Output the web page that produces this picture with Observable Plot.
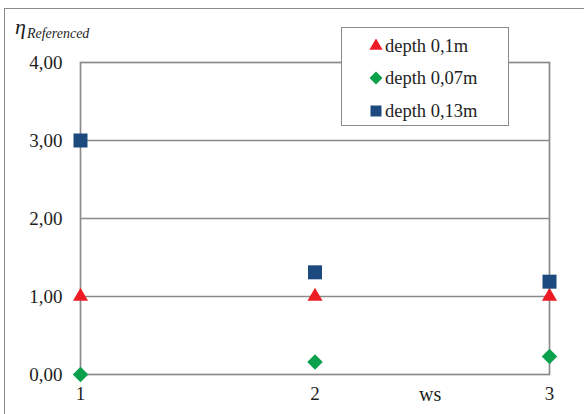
<!DOCTYPE html>
<html><head><meta charset="utf-8">
<script src="https://cdn.jsdelivr.net/npm/d3@7"></script>
<script src="https://cdn.jsdelivr.net/npm/@observablehq/plot@0.6"></script>
<style>
body{margin:0;background:#fff;}
#wrap{position:relative;width:584px;height:414px;overflow:hidden;font-family:"Liberation Serif","Times New Roman",serif;color:#1e1e1e;}
#border{position:absolute;left:4px;top:8px;width:800px;height:600px;border-left:1px solid #8a8a8a;border-top:1px solid #8a8a8a;}
#chart{position:absolute;left:0;top:0;}
#ylab{position:absolute;left:15px;top:14px;font-style:italic;white-space:nowrap;font-family:"Liberation Serif",serif;}
#ylab .eta{font-size:22px;}
#ylab sub{font-size:14px;vertical-align:-4px;margin-left:1px;}
#xlab{position:absolute;left:419px;top:383px;font-size:20px;font-family:"Liberation Serif",serif;}
#legend{position:absolute;left:341px;top:27px;width:166px;height:97px;border:1.5px solid #8a8a8a;background:#fff;}
.row{position:absolute;left:27px;height:22px;display:flex;align-items:center;font-size:18.5px;white-space:nowrap;font-family:"Liberation Serif",serif;}
.row svg{margin-right:2px;}
</style></head>
<body>
<div id="wrap">
  <div id="border"></div>
  <div id="chart"></div>
  <div id="ylab"><span class="eta">η</span><sub>Referenced</sub></div>
  <div id="xlab">ws</div>
  <div id="legend"></div>
</div>
<script>
const xValues = [1, 2, 3];
const seriesNames = ["depth 0,1m", "depth 0,07m", "depth 0,13m"];
const depth01 = [1.00, 1.00, 1.00];
const depth007 = [0.00, 0.16, 0.23];
const depth013 = [3.00, 1.31, 1.19];
const yTicks = [0, 1, 2, 3, 4];
const gridValues = [1, 2, 3];
const colors = ["#ed1c24", "#0aa04c", "#1c4a7e"];
const symbols = ["triangle", "diamond2", "square"];
const radii = [5.6, 7.0, 7.9];

const allSeries = [depth01, depth007, depth013];
const data = [];
allSeries.forEach((vals, si) => vals.forEach((v, i) => data.push({series: seriesNames[si], s: si, x: xValues[i], y: v})));

const fmt = d => d.toFixed(2).replace(".", ",");

const plot = Plot.plot({
  width: 584,
  height: 414,
  marginLeft: 80,
  marginRight: 35,
  marginTop: 62,
  marginBottom: 40,
  style: {background: "transparent", fontFamily: "'Liberation Serif','Times New Roman',serif", fontSize: "19px", color: "#1e1e1e"},
  x: {domain: [1, 3], axis: null},
  y: {domain: [0, 4], axis: null},
  marks: [
    Plot.ruleY(gridValues, {stroke: "#8a8a8a", strokeWidth: 1.7}),
    Plot.frame({stroke: "#8a8a8a", strokeWidth: 1.7}),
    Plot.axisY(yTicks, {tickSize: 0, tickPadding: 18, tickFormat: fmt, label: null, fill: "#1e1e1e"}),
    Plot.axisX(xValues, {tickSize: 0, tickPadding: 12, tickFormat: d => String(d), label: null, fill: "#1e1e1e"}),
    ...[0, 1, 2].map(si => Plot.dot(data.filter(d => d.s === si), {
      x: "x", y: "y", symbol: () => symbols[si], r: radii[si], fill: colors[si], stroke: "none"
    }))
  ]
});
document.getElementById("chart").appendChild(plot);

// legend
const legend = document.getElementById("legend");
const legendSyms = [d3.symbolTriangle, d3.symbolDiamond2, d3.symbolSquare];
const legendSizes = [75, 108, 121];
const rowTops = [7, 39, 72];
seriesNames.forEach((name, i) => {
  const row = document.createElement("div");
  row.className = "row";
  row.style.top = rowTops[i] + "px";
  const svg = d3.create("svg").attr("width", 14).attr("height", 14);
  svg.append("path").attr("transform", "translate(7,7)")
    .attr("d", d3.symbol(legendSyms[i], legendSizes[i])()).attr("fill", colors[i]);
  row.appendChild(svg.node());
  const t = document.createElement("span");
  t.textContent = name;
  row.appendChild(t);
  legend.appendChild(row);
});
</script>
</body></html>
